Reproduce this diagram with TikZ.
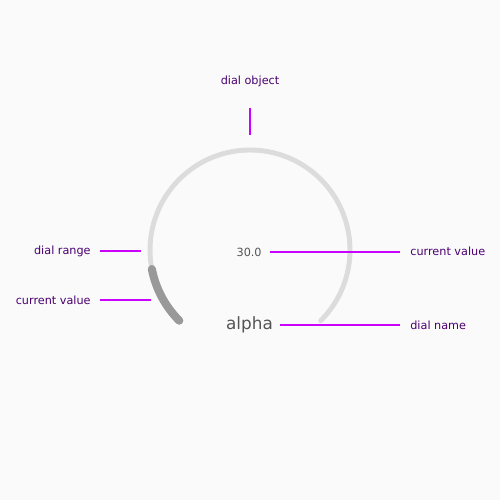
\documentclass[tikz,border=0pt]{standalone}
\usepackage{fontspec}
\setmainfont{DejaVu Sans}
\definecolor{bg}{HTML}{FAFAFA}
\definecolor{rangec}{HTML}{DCDCDC}
\definecolor{valc}{HTML}{999999}
\definecolor{lab}{HTML}{4B0070}
\definecolor{lead}{HTML}{CC00FF}
\definecolor{txt}{HTML}{555555}
\begin{document}
\begin{tikzpicture}[x=0.02cm,y=0.02cm,
  lbl/.style={text=lab,font=\fontsize{6.4}{7}\selectfont,inner sep=0pt},
  leader/.style={draw=lead,line width=0.6pt},
  ]
\fill[bg] (0,0) rectangle (500,500);
\useasboundingbox (0,0) rectangle (500,500);
\coordinate (c) at (250,250);
% dial range
\draw[rangec,line width=2.8pt,line cap=round] (c) ++(225:2cm) arc[start angle=225,end angle=-45,radius=2cm];
% current value arc
\draw[valc,line width=4.6pt,line cap=round] (c) ++(225:2cm) arc[start angle=225,end angle=191,radius=2cm];
% texts
\node[text=txt,font=\fontsize{6.4}{7}\selectfont,inner sep=0pt,anchor=east] (val) at (262,248) {30.0};
\node[text=txt,font=\fontsize{9.6}{11}\selectfont,inner sep=0pt] (name) at (249.5,175) {alpha};
% labels
\node[lbl] (obj) at (250,419) {dial object};
\node[lbl,anchor=east] (rng) at (91,249) {dial range};
\node[lbl,anchor=east] (cv1) at (91,200) {current value};
\node[lbl,anchor=west] (cv2) at (410,249) {current value};
\node[lbl,anchor=west] (dn) at (410,175) {dial name};
% leaders
\coordinate (o1) at (250,392); \coordinate (o2) at (250,365);
\draw[leader] (o1) -- (o2);
\coordinate (r1) at (100,249); \coordinate (r2) at (141,249);
\draw[leader] (r1) -- (r2);
\coordinate (v1) at (100,200); \coordinate (v2) at (151,200);
\draw[leader] (v1) -- (v2);
\coordinate (w1) at (270,248); \coordinate (w2) at (400,248);
\draw[leader] (w1) -- (w2);
\coordinate (n1) at (280,175); \coordinate (n2) at (400,175);
\draw[leader] (n1) -- (n2);
\end{tikzpicture}
\end{document}
